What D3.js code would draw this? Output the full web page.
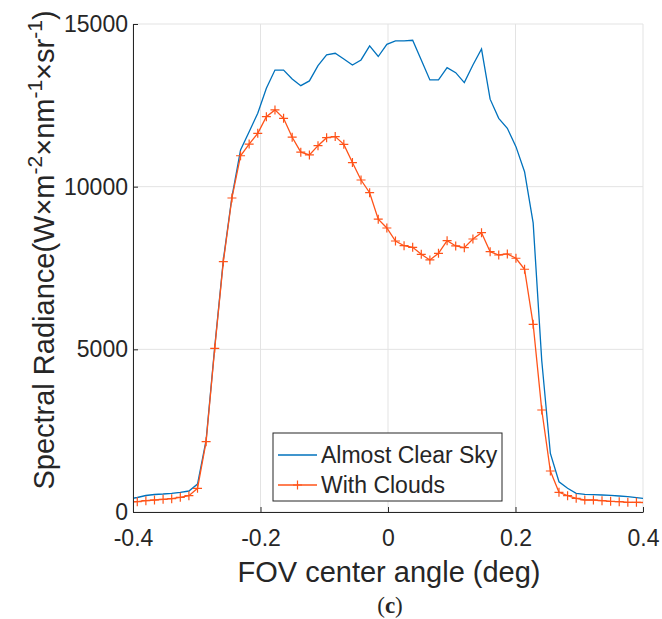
<!DOCTYPE html>
<html>
<head>
<meta charset="utf-8">
<script src="https://cdn.jsdelivr.net/npm/d3@7"></script>
<style>
  body { margin: 0; background: #fff; }
  text { font-family: "Liberation Sans", Arial, sans-serif; fill: #262626; }
</style>
</head>
<body>
<div id="chart"></div>
<script>
// ------- data --->
const angles = [
  -0.4068, -0.3933, -0.3798, -0.3663, -0.3528, -0.3393, -0.3258, -0.3123, -0.2988, -0.2853,
  -0.2718, -0.2583, -0.2448, -0.2313, -0.2178, -0.2043, -0.1908, -0.1773, -0.1638, -0.1503,
  -0.1368, -0.1233, -0.1098, -0.0963, -0.0828, -0.0693, -0.0558, -0.0423, -0.0288, -0.0153,
  -0.0018, 0.0117, 0.0252, 0.0387, 0.0522, 0.0657, 0.0792, 0.0927, 0.1062, 0.1197,
  0.1332, 0.1467, 0.1602, 0.1737, 0.1872, 0.2007, 0.2142, 0.2277, 0.2412, 0.2547,
  0.2682, 0.2817, 0.2952, 0.3087, 0.3222, 0.3357, 0.3492, 0.3627, 0.3762, 0.3897,
  0.4032
];

const clearSky = [
  400, 446, 507, 538, 553, 575, 605, 645, 860, 2213,
  5070, 7745, 9690, 11125, 11690, 12255, 13025, 13585, 13585, 13310,
  13105, 13250, 13720, 14050, 14100, 13925, 13740, 13895, 14325, 14000,
  14375, 14480, 14480, 14500, 13895, 13280, 13280, 13660, 13505, 13200,
  13740, 14230, 12690, 12100, 11795, 11230, 10460, 8885, 4650, 1800,
  930, 728, 575, 544, 532, 523, 513, 492, 470, 440,
  415
];

const withClouds = [
  300, 317, 348, 369, 390, 410, 451, 501, 728, 2161,
  5030, 7694, 9652, 10950, 11310, 11640, 12150, 12360, 12100, 11520,
  11060, 10975, 11260, 11505, 11540, 11300, 10740, 10205, 9815, 9000,
  8730, 8330, 8185, 8137, 7920, 7747, 7952, 8340, 8177, 8125,
  8392, 8586, 8002, 7900, 7931, 7799, 7461, 5770, 3135, 1260,
  605, 501, 421, 369, 369, 347, 329, 317, 298, 298,
  290
];

const xTicks = [-0.4, -0.2, 0, 0.2, 0.4];
const yTicks = [0, 5000, 10000, 15000];
const seriesNames = ["Almost Clear Sky", "With Clouds"];

// ------- margins / svg --->
const margin = { top: 24, right: 19, bottom: 107, left: 133 };
const svgWidth = 662;
const svgHeight = 619;
const width = svgWidth - margin.left - margin.right;
const height = svgHeight - margin.top - margin.bottom;

const blue = "#0072bd";
const red = "#ff5319";

const svg = d3.select("#chart").append("svg")
  .attr("width", svgWidth)
  .attr("height", svgHeight);

const g = svg.append("g")
  .attr("transform", `translate(${margin.left},${margin.top})`);

// ------- scales --->
const x = d3.scaleLinear().domain([-0.4, 0.4]).range([0, width]);
const y = d3.scaleLinear().domain([0, 15000]).range([height, 0]);

// ------- grid --->
g.append("g")
  .selectAll("line")
  .data(xTicks)
  .enter().append("line")
  .attr("x1", d => x(d)).attr("x2", d => x(d))
  .attr("y1", 0).attr("y2", height)
  .attr("stroke", "#e3e3e3").attr("stroke-width", 1);

g.append("g")
  .selectAll("line")
  .data(yTicks)
  .enter().append("line")
  .attr("x1", 0).attr("x2", width)
  .attr("y1", d => y(d)).attr("y2", d => y(d))
  .attr("stroke", "#e3e3e3").attr("stroke-width", 1);

// ------- clip --->
g.append("clipPath").attr("id", "plotClip")
  .append("rect")
  .attr("width", width).attr("height", height);

// ------- lines --->
const rows = angles.map((a, i) => ({ a: a, c: clearSky[i], w: withClouds[i] }));

const lineClear = d3.line().x(d => x(d.a)).y(d => y(d.c));
const lineClouds = d3.line().x(d => x(d.a)).y(d => y(d.w));

const plot = g.append("g").attr("clip-path", "url(#plotClip)");

plot.append("path")
  .datum(rows)
  .attr("fill", "none")
  .attr("stroke", blue)
  .attr("stroke-width", 1.3)
  .attr("d", lineClear);

plot.append("path")
  .datum(rows)
  .attr("fill", "none")
  .attr("stroke", red)
  .attr("stroke-width", 1.3)
  .attr("d", lineClouds);

// plus markers, only for points inside the x range
const inside = rows.filter(d => d.a >= -0.4 && d.a <= 0.4);
plot.selectAll(".mk")
  .data(inside)
  .enter().append("path")
  .attr("class", "mk")
  .attr("transform", d => `translate(${x(d.a)},${y(d.w)})`)
  .attr("d", "M-4.5,0H4.5M0,-4.5V4.5")
  .attr("stroke", red)
  .attr("stroke-width", 1.2)
  .attr("fill", "none");

// ------- axes --->
const axisColor = "#262626";

const bottomAxis = d3.axisBottom(x)
  .tickValues(xTicks)
  .tickFormat(d => d === 0 ? "0" : d3.format(".1f")(d).replace("−", "-"))
  .tickSizeInner(-5)
  .tickSizeOuter(0)
  .tickPadding(18);

const xAxisG = g.append("g")
  .attr("transform", `translate(0,${height})`)
  .call(bottomAxis);
xAxisG.select(".domain").attr("stroke", axisColor).attr("stroke-width", 1);
xAxisG.selectAll(".tick line").attr("stroke", axisColor);
xAxisG.selectAll("text")
  .style("font-size", "23px")
  .attr("fill", "#262626");

const leftAxis = d3.axisLeft(y)
  .tickValues(yTicks)
  .tickFormat(d3.format("d"))
  .tickSizeInner(-5)
  .tickSizeOuter(0)
  .tickPadding(5);

const yAxisG = g.append("g").call(leftAxis);
yAxisG.select(".domain").attr("stroke", axisColor).attr("stroke-width", 1);
yAxisG.selectAll(".tick line").attr("stroke", axisColor);
yAxisG.selectAll("text")
  .style("font-size", "23px")
  .attr("fill", "#262626");

// ------- axis titles --->
svg.append("text")
  .attr("x", margin.left + width / 2 + 1)
  .attr("y", 582)
  .attr("text-anchor", "middle")
  .style("font-size", "29px")
  .text("FOV center angle (deg)");

const yTitle = svg.append("text")
  .attr("transform", "translate(54,250) rotate(-90)")
  .attr("text-anchor", "middle")
  .style("font-size", "29px");

const yParts = [
  ["Spectral Radiance(W×m", 0], ["-2", 1], ["×nm", 0], ["-1", 1], ["×sr", 0], ["-1", 1], [")", 0]
];
let prevSup = 0;
yParts.forEach(p => {
  yTitle.append("tspan")
    .attr("dy", p[1] === prevSup ? 0 : (p[1] ? -12 : 12))
    .style("font-size", p[1] ? "21px" : "29px")
    .text(p[0]);
  prevSup = p[1];
});

// panel caption
const cap = svg.append("text")
  .attr("x", margin.left + width / 2 + 2)
  .attr("y", 613)
  .attr("text-anchor", "middle")
  .style("font-family", "'Liberation Serif', 'Times New Roman', serif")
  .style("font-size", "23px")
  .attr("fill", "#000");
cap.append("tspan").text("(");
cap.append("tspan").style("font-weight", "bold").text("c");
cap.append("tspan").text(")");

// ------- legend --->
const legend = svg.append("g").attr("transform", "translate(273,433)");
legend.append("rect")
  .attr("width", 229).attr("height", 68)
  .attr("fill", "#fff")
  .attr("stroke", "#262626")
  .attr("stroke-width", 1);

const legendRows = legend.selectAll(".lg")
  .data(seriesNames)
  .enter().append("g")
  .attr("class", "lg")
  .attr("transform", (d, i) => `translate(0,${22 + i * 30})`);

legendRows.append("line")
  .attr("x1", 5).attr("x2", 44)
  .attr("stroke", (d, i) => i ? red : blue)
  .attr("stroke-width", 1.3);

legendRows.filter((d, i) => i === 1).append("path")
  .attr("transform", "translate(24.5,0)")
  .attr("d", "M-4.5,0H4.5M0,-4.5V4.5")
  .attr("stroke", red)
  .attr("stroke-width", 1.2);

legendRows.append("text")
  .attr("x", 48)
  .attr("dy", "0.35em")
  .style("font-size", "23px")
  .attr("fill", "#000")
  .text(d => d);
</script>
</body>
</html>
